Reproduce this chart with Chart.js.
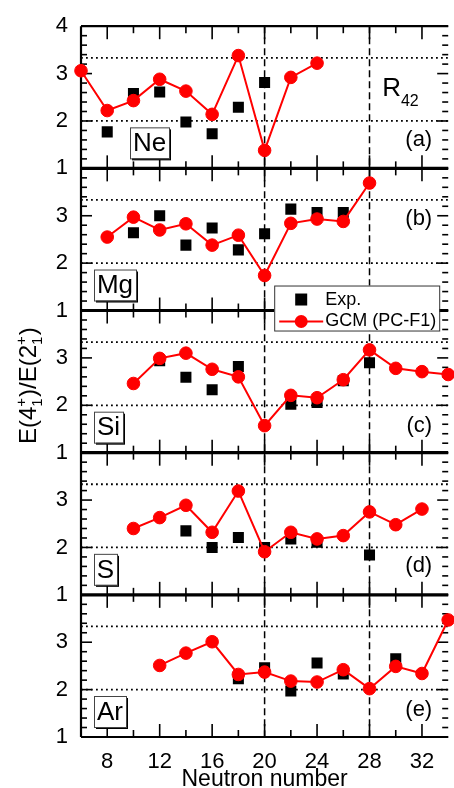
<!DOCTYPE html>
<html>
<head>
<meta charset="utf-8">
<title>R42 systematics</title>
<script src="https://cdn.jsdelivr.net/npm/chart.js@4.4.1/dist/chart.umd.min.js"></script>
<style>
  html, body { margin: 0; padding: 0; background: #fff; overflow: hidden; }
  #wrap { width: 454px; height: 788px; overflow: hidden; }
</style>
</head>
<body>
<div id="wrap"><canvas id="r42Chart" width="456" height="788"></canvas></div>
<script>
const FONT = "'Liberation Sans', Arial, sans-serif";

const panels = ["Ne", "Mg", "Si", "S", "Ar"];
const panelTags = ["(a)", "(b)", "(c)", "(d)", "(e)"];
const yTicks = [1, 2, 3, 4];
const xTicks = [8, 12, 16, 20, 24, 28, 32];
const refLinesY = [2, 10 / 3];
const refLinesX = [20, 28];
const xTitle = "Neutron number";

// Ne
const neExpN = [8, 10, 12, 14, 16, 18, 20];
const neExp = [1.77, 2.58, 2.61, 1.98, 1.73, 2.29, 2.81];
const neGcmN = [6, 8, 10, 12, 14, 16, 18, 20, 22, 24];
const neGcm = [3.06, 2.22, 2.43, 2.88, 2.63, 2.14, 3.38, 1.38, 2.92, 3.22];
// Mg
const mgExpN = [10, 12, 14, 16, 18, 20, 22, 24, 26];
const mgExp = [2.64, 3.0, 2.38, 2.74, 2.28, 2.62, 3.14, 3.07, 3.07];
const mgGcmN = [8, 10, 12, 14, 16, 18, 20, 22, 24, 26, 28];
const mgGcm = [2.55, 2.97, 2.7, 2.83, 2.38, 2.59, 1.74, 2.84, 2.93, 2.88, 3.69];
// Si
const siExpN = [12, 14, 16, 18, 22, 24, 26, 28];
const siExp = [2.94, 2.59, 2.33, 2.82, 2.02, 2.06, 2.52, 2.9];
const siGcmN = [10, 12, 14, 16, 18, 20, 22, 24, 26, 28, 30, 32, 34];
const siGcm = [2.46, 2.99, 3.1, 2.76, 2.6, 1.57, 2.21, 2.16, 2.54, 3.17, 2.78, 2.71, 2.65];
// S
const sExpN = [14, 16, 18, 20, 22, 24, 28];
const sExp = [2.35, 2.0, 2.21, 2.0, 2.18, 2.11, 1.84];
const sGcmN = [10, 12, 14, 16, 18, 20, 22, 24, 26, 28, 30, 32];
const sGcm = [2.4, 2.63, 2.89, 2.32, 3.19, 1.91, 2.32, 2.18, 2.25, 2.75, 2.48, 2.81];
// Ar
const arExpN = [18, 20, 22, 24, 26, 30];
const arExp = [2.23, 2.46, 1.97, 2.56, 2.33, 2.65];
const arGcmN = [12, 14, 16, 18, 20, 22, 24, 26, 28, 30, 32, 34];
const arGcm = [2.51, 2.77, 3.01, 2.32, 2.37, 2.18, 2.16, 2.42, 2.02, 2.49, 2.34, 3.47];

const yIds = ["yNe", "yMg", "ySi", "yS", "yAr"];
const expSets = [[neExpN, neExp], [mgExpN, mgExp], [siExpN, siExp], [sExpN, sExp], [arExpN, arExp]];
const gcmSets = [[neGcmN, neGcm], [mgGcmN, mgGcm], [siGcmN, siGcm], [sGcmN, sGcm], [arGcmN, arGcm]];

const pts = (ns, vs) => ns.map((n, i) => ({ x: n, y: vs[i] }));

const datasets = [];
panels.forEach((name, i) => {
  datasets.push({
    label: "GCM (PC-F1) " + name,
    data: pts(gcmSets[i][0], gcmSets[i][1]),
    yAxisID: yIds[i],
    showLine: true,
    borderColor: "#ff0000",
    backgroundColor: "#ff0000",
    borderWidth: 2,
    pointRadius: 6.3,
    pointBorderWidth: 1,
    pointBackgroundColor: "#ff0000",
    pointBorderColor: "#ff0000",
    tension: 0,
    clip: 8,
    order: 0,
  });
  datasets.push({
    label: "Exp. " + name,
    data: pts(expSets[i][0], expSets[i][1]),
    yAxisID: yIds[i],
    showLine: false,
    pointStyle: "rect",
    pointRadius: 7.8,
    pointBorderWidth: 0,
    pointBackgroundColor: "#000",
    backgroundColor: "#000",
    clip: 8,
    order: 1,
  });
});

const yScale = (showTop) => ({
  type: "linear",
  position: "left",
  stack: "panels",
  stackWeight: 1,
  min: 1,
  max: 4,
  afterBuildTicks: (s) => { s.ticks = yTicks.map((v) => ({ value: v })); },
  afterFit: (s) => { s.width = 81; },
  grid: { display: false, drawTicks: false },
  border: { display: false },
  ticks: {
    color: "#000",
    font: { family: FONT, size: 22 },
    padding: 13,
    autoSkip: false,
    callback: (v) => (v === 4 && !showTop ? "" : String(v)),
  },
});

// stacked axes: the last defined sits on top
const scales = {
  x: {
    type: "linear",
    position: "bottom",
    min: 6,
    max: 34,
    afterBuildTicks: (s) => { s.ticks = xTicks.map((v) => ({ value: v })); },
    afterFit: (s) => { s.height = 51; },
    grid: { display: false, drawTicks: false },
    border: { display: false },
    ticks: { color: "#000", font: { family: FONT, size: 22 }, padding: 12, maxRotation: 0, autoSkip: false },
    title: { display: false },
  },
  yAr: yScale(false),
  yS: yScale(false),
  ySi: yScale(false),
  yMg: yScale(false),
  yNe: yScale(true),
};

function seg(ctx, x1, y1, x2, y2) {
  ctx.beginPath();
  ctx.moveTo(x1, y1);
  ctx.lineTo(x2, y2);
  ctx.stroke();
}

const panelDecor = {
  id: "panelDecor",
  beforeDatasetsDraw(chart) {
    const { ctx, chartArea: ca } = chart;
    const xs = chart.scales.x;
    ctx.save();
    ctx.strokeStyle = "#000";

    // dotted reference lines
    ctx.lineWidth = 1.8;
    ctx.setLineDash([1.8, 3.2]);
    yIds.forEach((id) => {
      const ys = chart.scales[id];
      refLinesY.forEach((v) => {
        const py = ys.getPixelForValue(v);
        seg(ctx, ca.left, py, ca.right, py);
      });
    });

    // dashed shell closures
    ctx.lineWidth = 1.5;
    ctx.setLineDash([7, 4]);
    refLinesX.forEach((v) => {
      const px = xs.getPixelForValue(v);
      seg(ctx, px, ca.top, px, ca.bottom);
    });
    ctx.setLineDash([]);

    // inward tick marks
    ctx.lineWidth = 1.6;
    yIds.forEach((id) => {
      const ys = chart.scales[id];
      for (let k = 0; k <= 15; k++) {
        const v = 1 + k * 0.2;
        const major = k % 5 === 0;
        const len = major ? 11 : 6;
        const py = ys.getPixelForValue(v);
        seg(ctx, ca.left, py, ca.left + len, py);
        seg(ctx, ca.right, py, ca.right - len, py);
      }
      for (let n = 8; n <= 32; n += 2) {
        const len = n % 4 === 0 ? 13 : 7;
        const px = xs.getPixelForValue(n);
        seg(ctx, px, ys.top, px, ys.top + len);
        seg(ctx, px, ys.bottom, px, ys.bottom - len);
      }
    });

    // frames
    ctx.lineWidth = 2.2;
    seg(ctx, ca.left, ca.top, ca.left, ca.bottom);
    yIds.forEach((id, i) => {
      const ys = chart.scales[id];
      ctx.lineWidth = i === 0 ? 2.2 : 3.2;
      seg(ctx, ca.left, ys.top, ca.right, ys.top);
    });
    ctx.lineWidth = 2.2;
    seg(ctx, ca.left, ca.bottom, ca.right, ca.bottom);
    ctx.restore();
  },
  afterDatasetsDraw(chart) {
    const { ctx, chartArea: ca } = chart;
    const xs = chart.scales.x;
    ctx.save();

    // element boxes
    ctx.font = `26px ${FONT}`;
    panels.forEach((name, i) => {
      const ys = chart.scales[yIds[i]];
      const w = Math.round(ctx.measureText(name).width + 6);
      const h = 31;
      const left = ca.left + (i === 0 ? 49 : 13);
      const top = ys.bottom - 10 - h;
      ctx.fillStyle = "#000";
      ctx.fillRect(left + 2, top + 2, w, h);
      ctx.fillStyle = "#fff";
      ctx.fillRect(left, top, w, h);
      ctx.strokeStyle = "#444";
      ctx.lineWidth = 1;
      ctx.strokeRect(left + 0.5, top + 0.5, w, h);
      ctx.fillStyle = "#000";
      ctx.textAlign = "center";
      ctx.textBaseline = "middle";
      ctx.fillText(name, left + w / 2, top + h / 2 + 1);
    });

    // panel tags
    const tagY = [1.6, 2.93, 1.57, 1.62, 1.58];
    ctx.font = `22px ${FONT}`;
    ctx.textAlign = "right";
    ctx.textBaseline = "middle";
    panelTags.forEach((t, i) => {
      const ys = chart.scales[yIds[i]];
      ctx.fillText(t, ca.right - 16, ys.getPixelForValue(tagY[i]));
    });

    // R_42
    const yNe = chart.scales.yNe;
    ctx.textAlign = "left";
    ctx.textBaseline = "alphabetic";
    ctx.font = `26px ${FONT}`;
    const rx = ca.right - 66;
    const ry = yNe.getPixelForValue(2.52);
    ctx.fillText("R", rx, ry);
    const rw = ctx.measureText("R").width;
    ctx.font = `16px ${FONT}`;
    ctx.fillText("42", rx + rw, ry + 10);

    // legend
    const yMg = chart.scales.yMg;
    const lx = ca.right - 174, ly = yMg.bottom - 25, lw = 165, lh = 45;
    ctx.fillStyle = "#fff";
    ctx.fillRect(lx, ly, lw, lh);
    ctx.strokeStyle = "#333";
    ctx.lineWidth = 1;
    ctx.strokeRect(lx + 0.5, ly + 0.5, lw, lh);
    const mx = lx + 27;
    ctx.fillStyle = "#000";
    ctx.fillRect(mx - 6, ly + 14 - 6, 12, 12);
    ctx.strokeStyle = "#ff0000";
    ctx.lineWidth = 2;
    seg(ctx, lx + 5, ly + 36, lx + 49, ly + 36);
    ctx.fillStyle = "#ff0000";
    ctx.beginPath();
    ctx.arc(mx, ly + 36, 6.5, 0, Math.PI * 2);
    ctx.fill();
    ctx.fillStyle = "#000";
    ctx.font = `18px ${FONT}`;
    ctx.textBaseline = "middle";
    ctx.fillText("Exp.", lx + 51, ly + 15);
    ctx.fillText("GCM (PC-F1)", lx + 51, ly + 36);

    // x title
    ctx.font = `23px ${FONT}`;
    ctx.textAlign = "center";
    ctx.textBaseline = "alphabetic";
    ctx.fillText(xTitle, (xs.getPixelForValue(20) + xs.getPixelForValue(20)) / 2, ca.bottom + 49);

    // y title E(4+1)/E(2+1)
    const parts = [["E(4"], ["+", "1"], [")/E(2"], ["+", "1"], [")"]];
    const big = `24px ${FONT}`, small = `15px ${FONT}`;
    let total = 0;
    const widths = parts.map((p) => {
      ctx.font = p.length === 1 ? big : small;
      const w = p.length === 1 ? ctx.measureText(p[0]).width : Math.max(ctx.measureText(p[0]).width, ctx.measureText(p[1]).width) + 1;
      total += w;
      return w;
    });
    ctx.translate(27, (ca.top + ca.bottom) / 2 + 4);
    ctx.rotate(-Math.PI / 2);
    ctx.textAlign = "left";
    ctx.textBaseline = "alphabetic";
    let cx = -total / 2;
    parts.forEach((p, i) => {
      if (p.length === 1) {
        ctx.font = big;
        ctx.fillText(p[0], cx, 9);
      } else {
        ctx.font = small;
        ctx.fillText(p[0], cx, -1);
        ctx.fillText(p[1], cx, 15);
      }
      cx += widths[i];
    });
    ctx.restore();
  },
};

new Chart(document.getElementById("r42Chart"), {
  type: "scatter",
  data: { datasets },
  options: {
    responsive: false,
    animation: false,
    events: [],
    layout: { padding: { top: 15, left: 0, right: 0, bottom: 0 } },
    plugins: { legend: { display: false }, tooltip: { enabled: false }, title: { display: false } },
    scales,
  },
  plugins: [panelDecor],
});
</script>
</body>
</html>
